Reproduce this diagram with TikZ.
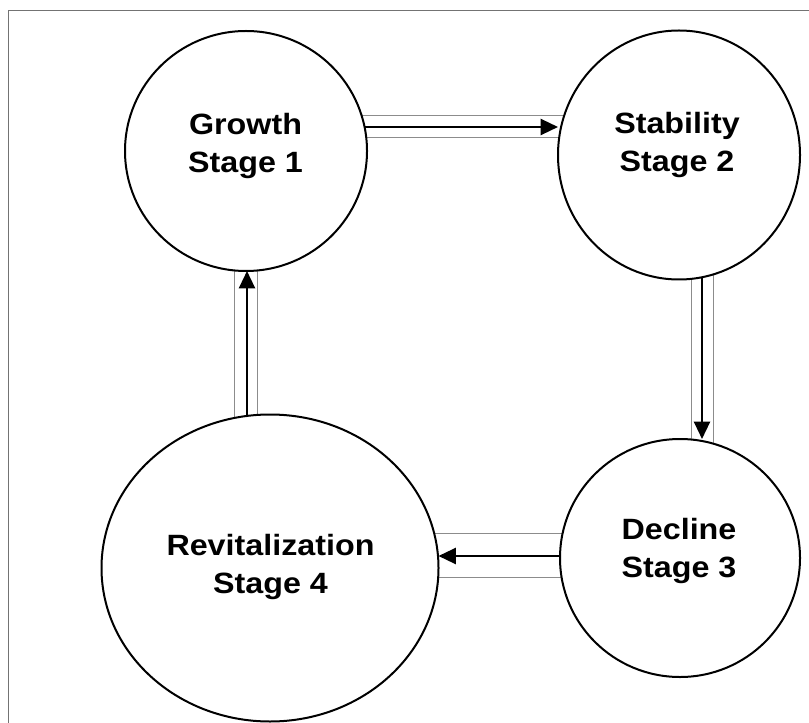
\documentclass[tikz,border=0pt]{standalone}
\usepackage{fontspec}
\setmainfont{Liberation Sans}
\newfontfamily\stagefont{Liberation Sans}[FakeStretch=1.1]
\usetikzlibrary{shapes.geometric,arrows.meta,backgrounds}

\tikzset{every picture/.style={line width=0.75pt}}
\tikzset{
  stage/.style={draw, ellipse, fill=white, line width=1.5pt, inner sep=0pt, outer sep=0pt},
  stagetext/.style={align=center, inner sep=0pt, font=\stagefont\bfseries\fontsize{22}{28.5}\selectfont},
  band/.style={draw=black!45, line width=0.6pt},
  flow/.style={line width=1.7pt, -{Triangle[length=13pt,width=12pt]}},
}

\begin{document}
\begin{tikzpicture}[x=0.75pt,y=0.75pt,yscale=-1,xscale=1]
    \useasboundingbox (0,0) rectangle (809,723);

    %Frame
    \draw [black!55, line width=0.7pt] (8,723) -- (8,10) -- (809,10);

    %Shape: Circle [growth]
    \node [stage, minimum width=181.5pt, minimum height=180pt] (growth) at (246,151) {};
    %Shape: Circle [stability]
    \node [stage, minimum width=181.5pt, minimum height=186.75pt] (stability) at (679,155) {};
    %Shape: Circle [decline]
    \node [stage, minimum width=180pt, minimum height=178.5pt] (decline) at (680,558) {};
    %Shape: Ellipse [revital]
    \node [stage, minimum width=252.75pt, minimum height=230.25pt] (revital) at (270,568) {};

    % Text Node
    \node [stagetext] (growth-t) at (245.5,145.5) {Growth\\Stage 1};
    % Text Node
    \node [stagetext] (stability-t) at (677,144.5) {Stability\\Stage 2};
    % Text Node
    \node [stagetext] (decline-t) at (679,550.5) {Decline\\Stage 3};
    % Text Node
    \node [stagetext] (revital-t) at (270.5,567) {Revitalization\\Stage 4};

    \begin{scope}[on background layer]
    %Straight Lines [growth -> stability]
    \draw [band] (growth.center |- 0,115) -- (stability.center |- 0,115);
    \draw [band] (growth.center |- 0,137) -- (stability.center |- 0,137);
    \draw [flow] (growth.center |- 0,127) -- (stability.west |- 0,127);
    %Straight Lines [stability -> decline]
    \draw [band] (stability.center -| 691,0) -- (decline.center -| 691,0);
    \draw [band] (stability.center -| 713,0) -- (decline.center -| 713,0);
    \draw [flow] (stability.center -| 702,0) -- (decline.north -| 702,0);
    %Straight Lines [decline -> revital]
    \draw [band] (decline.center |- 0,533) -- (revital.center |- 0,533);
    \draw [band] (decline.center |- 0,577) -- (revital.center |- 0,577);
    \draw [flow] (decline.center |- 0,556) -- (revital.east |- 0,556);
    %Straight Lines [revital -> growth]
    \draw [band] (revital.center -| 234,0) -- (growth.center -| 234,0);
    \draw [band] (revital.center -| 257,0) -- (growth.center -| 257,0);
    \draw [flow] (revital.center -| 247,0) -- (growth.south -| 247,0);
    \end{scope}

\end{tikzpicture}
\end{document}
